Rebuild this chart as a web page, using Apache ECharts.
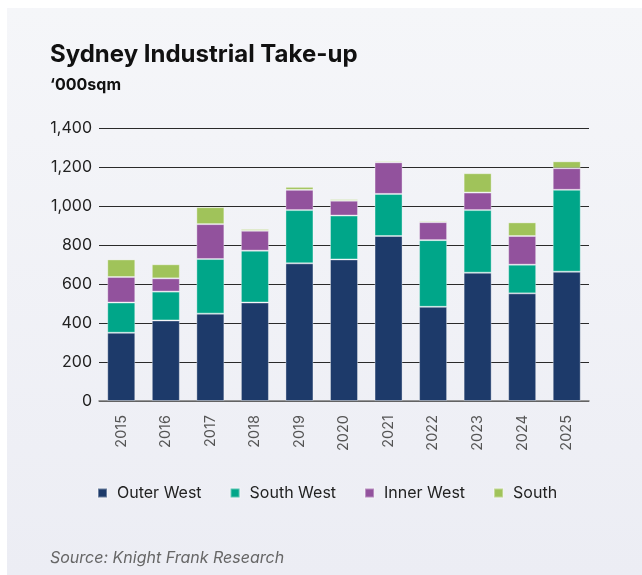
<!DOCTYPE html>
<html>
<head>
<meta charset="utf-8">
<script src="https://cdn.jsdelivr.net/npm/echarts@6/dist/echarts.min.js"></script>
<style>
html,body{margin:0;padding:0;background:#fff;}
#chart{width:642px;height:575px;}
</style>
</head>
<body>
<div id="chart"></div>
<script>
var years = ['2015','2016','2017','2018','2019','2020','2021','2022','2023','2024','2025'];
var outerWest = [350, 413, 448, 505, 706, 726, 846, 483, 658, 552, 663];
var southWest = [155, 148, 280, 266, 273, 225, 216, 342, 321, 147, 420];
var innerWest = [131, 68, 179, 102, 104, 76, 162, 92, 90, 147, 111];
var south = [90, 72, 87, 9, 15, 8, 7, 7, 99, 70, 35];
var seriesNames = ['Outer West', 'South West', 'Inner West', 'South'];
var seriesColors = ['#1d3a6a', '#00a689', '#92529d', '#a0c35a'];
var seriesData = [outerWest, southWest, innerWest, south];

var chart = echarts.init(document.getElementById('chart'));
var font = 'Inter, "Noto Sans", sans-serif';
chart.setOption({
  backgroundColor: '#ffffff',
  animation: false,
  textStyle: { fontFamily: font },
  graphic: [
    {
      type: 'rect', z: -10, silent: true,
      shape: { x: 7, y: 8, width: 635, height: 567 },
      style: { fill: new echarts.graphic.LinearGradient(0, 0, 0, 1, [
        { offset: 0, color: '#f5f6f9' }, { offset: 1, color: '#ecedf4' }
      ]) }
    }
  ],
  title: [
    { text: 'Sydney Industrial Take-up', left: 45, top: 38,
      textStyle: { fontFamily: font, fontSize: 24, fontWeight: 'bold', color: '#111' } },
    { text: '\u2018000sqm', left: 45, top: 72,
      textStyle: { fontFamily: font, fontSize: 16, fontWeight: 'bold', color: '#111' } },
    { text: 'Source: Knight Frank Research', left: 45, top: 545,
      textStyle: { fontFamily: font, fontSize: 16, fontStyle: 'italic', fontWeight: 'normal', color: '#666' } }
  ],
  legend: {
    left: 92, top: 480,
    itemWidth: 9, itemHeight: 9, itemGap: 28,
    icon: 'rect',
    textStyle: { fontFamily: font, fontSize: 16, color: '#222', padding: [0,0,0,5] },
    data: seriesNames
  },
  grid: { left: 99, right: 53, top: 128, bottom: 174 },
  xAxis: {
    type: 'category', data: years,
    axisTick: { show: false },
    axisLine: { lineStyle: { color: '#777', width: 1.5 } },
    axisLabel: { rotate: 90, color: '#555', fontSize: 14.5, margin: 14, fontFamily: font }
  },
  yAxis: {
    type: 'value', min: 0, max: 1400, interval: 200,
    axisLine: { show: false }, axisTick: { show: false },
    axisLabel: { color: '#222', fontSize: 16, margin: 7, fontFamily: font,
      formatter: function (v) { return v.toLocaleString('en-US'); } },
    splitLine: { lineStyle: { color: '#2a2a2a', width: 1 } }
  },
  series: seriesNames.map(function (n, i) {
    return {
      name: n, type: 'bar', stack: 'total', barWidth: 28,
      data: seriesData[i],
      itemStyle: { color: seriesColors[i], borderColor: 'rgba(255,255,255,0.35)', borderWidth: 1 }
    };
  })
});
</script>
</body>
</html>
